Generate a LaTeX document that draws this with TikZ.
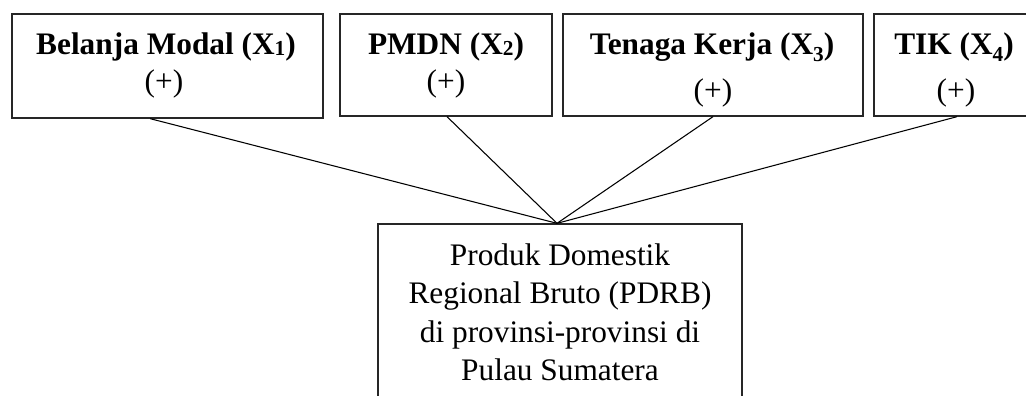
\documentclass[tikz,border=0pt]{standalone}
\usepackage{fontspec}
\setmainfont{Liberation Serif}
\begin{document}
\begin{tikzpicture}[x=0.75pt,y=-0.75pt,
  box/.style={draw=black!85,line width=1pt,rectangle,inner sep=0pt},
  lbl/.style={anchor=base,inner sep=0pt,font=\fontsize{23.5pt}{28pt}\selectfont},
  ttl/.style={lbl,font=\fontsize{23.5pt}{28pt}\selectfont\bfseries},
  link/.style={draw=black,line width=0.8pt}]
\useasboundingbox (0,0) rectangle (1026,396);
\clip (0,0) rectangle (1026,396);
\newcommand{\smallsub}[1]{\raisebox{-1pt}{\fontsize{16pt}{16pt}\selectfont #1}}
\newcommand{\lowsub}[1]{\raisebox{-5.5pt}{\fontsize{16pt}{16pt}\selectfont #1}}
% boxes
\node[box,minimum width=233.25pt,minimum height=78pt] (b1) at (167.5,66) {};
\node[box,minimum width=159pt,minimum height=76.5pt] (b2) at (446,65) {};
\node[box,minimum width=225pt,minimum height=76.5pt] (b3) at (713,65) {};
\node[box,minimum width=121.5pt,minimum height=76.5pt] (b4) at (955,65) {};
\node[box,minimum width=273pt,minimum height=150pt] (y) at (560,324) {};
% texts
\node[ttl] (t1) at (166,54) {Belanja Modal (X\smallsub{1})};
\node[lbl] (p1) at (164,91) {(+)};
\node[ttl] (t2) at (446,54) {PMDN (X\smallsub{2})};
\node[lbl] (p2) at (446,91) {(+)};
\node[ttl] (t3) at (712,54) {Tenaga Kerja (X\lowsub{3})};
\node[lbl] (p3) at (713,100) {(+)};
\node[ttl] (t4) at (954,54) {TIK (X\lowsub{4})};
\node[lbl] (p4) at (956,100) {(+)};
\node[lbl] (y1) at (560,265) {Produk Domestik};
\node[lbl] (y2) at (560,303) {Regional Bruto (PDRB)};
\node[lbl] (y3) at (560,342) {di provinsi-provinsi di};
\node[lbl] (y4) at (560,380) {Pulau Sumatera};
% connectors
\coordinate (m) at ([xshift=-2.25pt]y.north);
\draw[link] ([xshift=-13pt]b1.south) -- (m);
\draw[link] ([xshift=0.75pt]b2.south) -- (m);
\draw[link] (b3.south) -- (m);
\draw[link] ([xshift=1.5pt]b4.south) -- (m);
\end{tikzpicture}
\end{document}
